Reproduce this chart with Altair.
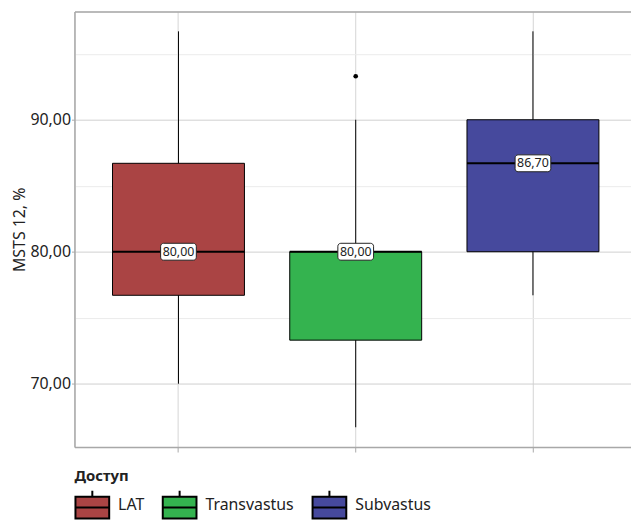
import altair as alt
import pandas as pd

groups = ["LAT", "Transvastus", "Subvastus"]
whisker_low = [70.0, 66.7, 76.7]
q1 = [76.7, 73.3, 80.0]
median = [80.0, 80.0, 86.7]
q3 = [86.7, 80.0, 90.0]
whisker_high = [96.7, 90.0, 96.7]
outlier_group = ["Transvastus"]
outlier_value = [93.3]
colors = ["#AA4444", "#34B34F", "#46499D"]
y_ticks = [70, 75, 80, 85, 90, 95]

df = pd.DataFrame({"group": groups, "lo": whisker_low, "q1": q1, "med": median,
                   "q3": q3, "hi": whisker_high})
df_out = pd.DataFrame({"group": outlier_group, "val": outlier_value})

FONT = "Noto Sans"
GREY = "#a8a8a8"

xscale = alt.Scale(domain=groups, paddingInner=0, paddingOuter=0.07, align=0.62)
yscale = alt.Scale(domain=[65.2, 98.2], nice=False, zero=False)

x_bottom = alt.X("group:N", scale=xscale, sort=groups, title=None,
                 axis=alt.Axis(labels=False, ticks=True, tickSize=5, tickColor=GREY,
                               domainColor=GREY, domainWidth=1.5, grid=True,
                               gridColor="#d4d4d4", orient="bottom"))
x_top = alt.X("group:N", scale=xscale, sort=groups, title=None,
              axis=alt.Axis(labels=False, ticks=False, domainColor=GREY, domainWidth=1.5,
                            grid=False, orient="top"))
x_none = alt.X("group:N", scale=xscale, sort=groups, title=None, axis=None)

y_axis = alt.Axis(values=y_ticks, title="MSTS 12, %",
                  labelExpr="datum.value % 10 == 0 ? replace(format(datum.value, '.2f'), '.', ',') : ''",
                  labelFontSize=16, labelColor="#222", labelFont=FONT, labelPadding=1,
                  tickSize=3, tickColor={"condition": {"test": "datum.value % 10 == 0", "value": GREY}, "value": "transparent"},
                  gridColor={"condition": {"test": "datum.value % 10 == 0", "value": "#cfcfcf"}, "value": "#ebebeb"},
                  domainColor=GREY, domainWidth=1.5,
                  titleFont=FONT, titleFontSize=16, titleFontWeight="normal", titleColor="#222",
                  titlePadding=2)

base = alt.Chart(df)

legend_path = "M0,-0.82V-0.47M-1,-0.47H1V0.82H-1ZM-1,0.175H1"

boxes = base.mark_bar(size=133, stroke="black", strokeWidth=1).encode(
    x=x_bottom,
    y=alt.Y("q1:Q", scale=yscale, axis=y_axis),
    y2="q3:Q",
    color=alt.Color("group:N", scale=alt.Scale(domain=groups, range=colors),
                    legend=alt.Legend(title="Доступ", orient="none", legendX=0, legendY=461,
                                      direction="horizontal", symbolType=legend_path,
                                      symbolSize=1156, symbolStrokeColor="black",
                                      symbolStrokeWidth=2, symbolOpacity=1,
                                      labelFont=FONT, labelFontSize=16, labelColor="#222",
                                      labelOffset=8, columnPadding=14,
                                      titleFont=FONT, titleFontSize=15, titleFontWeight="bold",
                                      titleColor="#222", titlePadding=3)),
)

whisk_low = base.mark_rule(color="black", strokeWidth=1).encode(
    x=x_top, y=alt.Y("lo:Q", scale=yscale), y2="q1:Q")
whisk_high = base.mark_rule(color="black", strokeWidth=1).encode(
    x=x_none, y=alt.Y("q3:Q", scale=yscale), y2="hi:Q")

med_line = base.mark_tick(size=133, thickness=2, color="black", opacity=1).encode(
    x=x_none, y=alt.Y("med:Q", scale=yscale))

label_box = base.transform_calculate(
    blo="datum.med - 0.64", bhi="datum.med + 0.64"
).mark_bar(width=36, cornerRadius=3, fill="white", stroke="#222", strokeWidth=1).encode(
    x=x_none, y=alt.Y("blo:Q", scale=yscale), y2="bhi:Q")

label_text = base.transform_calculate(
    lab="replace(format(datum.med, '.2f'), '.', ',')"
).mark_text(font=FONT, fontSize=12.5, color="#222", baseline="middle", align="center").encode(
    x=x_none, y=alt.Y("med:Q", scale=yscale), text="lab:N")

outliers = alt.Chart(df_out).mark_point(filled=True, color="black", size=22, opacity=1).encode(
    x=x_none, y=alt.Y("val:Q", scale=yscale))

chart = alt.layer(boxes, whisk_low, whisk_high, med_line, label_box, label_text, outliers).resolve_axis(
    x="independent"
).properties(
    width=561, height=439,
    padding={"left": 4, "top": 1.5, "right": 0, "bottom": 0},
).configure_view(stroke=None).configure(background="white")

chart.save("out.html", embed_options={"renderer": "svg", "actions": False})
